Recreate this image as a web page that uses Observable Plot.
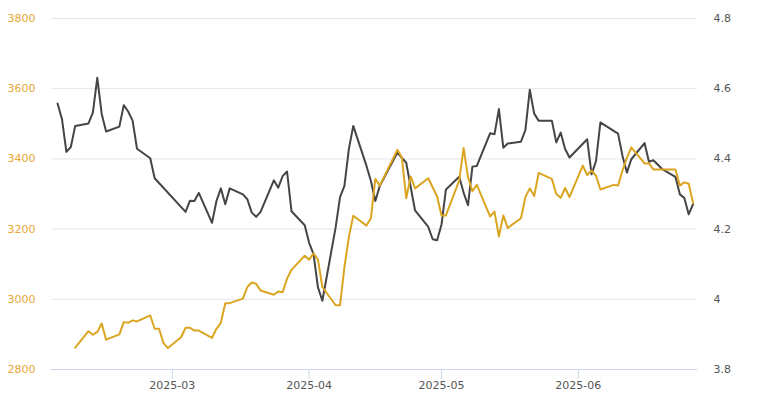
<!DOCTYPE html>
<html>
<head>
<meta charset="utf-8">
<script src="https://cdn.jsdelivr.net/npm/d3@7"></script>
<script src="https://cdn.jsdelivr.net/npm/@observablehq/plot@0.6"></script>
<style>
  html, body { margin: 0; padding: 0; background: #fff; }
  #chart svg { display: block; }
</style>
</head>
<body>
<div id="chart"></div>
<script>
// Dark series (right axis)
const yieldDates = ["2025-02-03","2025-02-04","2025-02-05","2025-02-06","2025-02-07","2025-02-10","2025-02-11","2025-02-12","2025-02-13","2025-02-14","2025-02-17","2025-02-18","2025-02-19","2025-02-20","2025-02-21","2025-02-24","2025-02-25","2025-03-04","2025-03-05","2025-03-06","2025-03-07","2025-03-10","2025-03-11","2025-03-12","2025-03-13","2025-03-14","2025-03-17","2025-03-18","2025-03-19","2025-03-20","2025-03-21","2025-03-24","2025-03-25","2025-03-26","2025-03-27","2025-03-28","2025-03-31","2025-04-01","2025-04-02","2025-04-03","2025-04-04","2025-04-07","2025-04-08","2025-04-09","2025-04-10","2025-04-11","2025-04-14","2025-04-15","2025-04-16","2025-04-17","2025-04-21","2025-04-23","2025-04-25","2025-04-28","2025-04-29","2025-04-30","2025-05-01","2025-05-02","2025-05-05","2025-05-06","2025-05-07","2025-05-08","2025-05-09","2025-05-12","2025-05-13","2025-05-14","2025-05-15","2025-05-16","2025-05-19","2025-05-20","2025-05-21","2025-05-22","2025-05-23","2025-05-26","2025-05-27","2025-05-28","2025-05-29","2025-05-30","2025-06-03","2025-06-04","2025-06-05","2025-06-06","2025-06-09","2025-06-10","2025-06-11","2025-06-12","2025-06-13","2025-06-16","2025-06-17","2025-06-18","2025-06-20","2025-06-23","2025-06-24","2025-06-25","2025-06-26","2025-06-27"];
const yieldValues = [4.558,4.513,4.42,4.434,4.494,4.501,4.532,4.631,4.528,4.478,4.492,4.553,4.535,4.509,4.429,4.402,4.345,4.249,4.281,4.28,4.303,4.218,4.28,4.316,4.271,4.316,4.299,4.285,4.247,4.235,4.249,4.339,4.318,4.351,4.364,4.251,4.211,4.161,4.129,4.034,3.996,4.204,4.291,4.323,4.428,4.494,4.38,4.337,4.28,4.323,4.418,4.389,4.253,4.206,4.171,4.168,4.213,4.313,4.349,4.304,4.268,4.378,4.38,4.473,4.47,4.542,4.432,4.444,4.449,4.482,4.597,4.529,4.509,4.509,4.447,4.475,4.428,4.404,4.456,4.356,4.394,4.504,4.48,4.472,4.409,4.361,4.399,4.445,4.392,4.396,4.371,4.349,4.299,4.289,4.242,4.271];

// Gold series (left axis)
const goldDates = ["2025-02-07","2025-02-10","2025-02-11","2025-02-12","2025-02-13","2025-02-14","2025-02-17","2025-02-18","2025-02-19","2025-02-20","2025-02-21","2025-02-24","2025-02-25","2025-02-26","2025-02-27","2025-02-28","2025-03-03","2025-03-04","2025-03-05","2025-03-06","2025-03-07","2025-03-10","2025-03-11","2025-03-12","2025-03-13","2025-03-14","2025-03-17","2025-03-18","2025-03-19","2025-03-20","2025-03-21","2025-03-24","2025-03-25","2025-03-26","2025-03-27","2025-03-28","2025-03-31","2025-04-01","2025-04-02","2025-04-03","2025-04-04","2025-04-07","2025-04-08","2025-04-09","2025-04-10","2025-04-11","2025-04-14","2025-04-15","2025-04-16","2025-04-17","2025-04-21","2025-04-22","2025-04-23","2025-04-24","2025-04-25","2025-04-28","2025-04-30","2025-05-01","2025-05-02","2025-05-05","2025-05-06","2025-05-07","2025-05-08","2025-05-09","2025-05-12","2025-05-13","2025-05-14","2025-05-15","2025-05-16","2025-05-19","2025-05-20","2025-05-21","2025-05-22","2025-05-23","2025-05-26","2025-05-27","2025-05-28","2025-05-29","2025-05-30","2025-06-02","2025-06-03","2025-06-04","2025-06-05","2025-06-06","2025-06-09","2025-06-10","2025-06-11","2025-06-12","2025-06-13","2025-06-16","2025-06-17","2025-06-18","2025-06-19","2025-06-20","2025-06-23","2025-06-24","2025-06-25","2025-06-26","2025-06-27"];
const goldValues = [2862,2909,2899,2907,2931,2885,2900,2935,2933,2940,2937,2954,2916,2916,2875,2861,2892,2919,2919,2911,2911,2890,2916,2933,2989,2989,3002,3035,3048,3044,3025,3013,3022,3020,3059,3084,3124,3113,3131,3113,3035,2983,2983,3092,3177,3238,3210,3231,3343,3324,3426,3405,3288,3350,3316,3345,3293,3239,3239,3338,3431,3348,3308,3326,3236,3250,3179,3239,3203,3231,3291,3316,3294,3360,3343,3300,3289,3317,3291,3381,3354,3367,3352,3313,3326,3324,3367,3403,3433,3387,3387,3370,3370,3370,3370,3324,3333,3329,3274];

const leftTicks = [2800, 3000, 3200, 3400, 3600, 3800];
const leftTickLabels = ["2800", "3000", "3200", "3400", "3600", "3800"];
const rightTickLabels = ["3.8", "4", "4.2", "4.4", "4.6", "4.8"];
const monthTicks = ["2025-03-01", "2025-04-01", "2025-05-01", "2025-06-01"];

// map right-axis values onto the left scale
const toLeft = v => 2800 + (v - 3.8) * 1000;

const yieldData = yieldDates.map((d, i) => ({date: new Date(d + "T00:00:00Z"), value: toLeft(yieldValues[i])}));
const goldData = goldDates.map((d, i) => ({date: new Date(d + "T00:00:00Z"), value: goldValues[i]}));

const font = "DejaVu Sans, sans-serif";

const chart = Plot.plot({
  width: 767,
  height: 395,
  marginLeft: 51,
  marginRight: 70,
  marginTop: 18,
  marginBottom: 26,
  style: {fontFamily: font, fontSize: "11px", background: "#fff"},
  x: {
    type: "utc",
    domain: [new Date("2025-02-01T15:00:00Z"), new Date("2025-06-28T00:00:00Z")]
  },
  y: {domain: [2800, 3800]},
  marks: [
    Plot.gridY(leftTicks.filter(t => t !== 2800), {stroke: "#e6e6e6", strokeOpacity: 1}),
    Plot.ruleY([2800], {stroke: "#ccd6eb"}),
    Plot.axisY(leftTicks, {
      anchor: "left", tickSize: 0, tickPadding: 16, label: null,
      tickFormat: d => leftTickLabels[leftTicks.indexOf(d)],
      fill: "#e8a735", fontSize: 11
    }),
    Plot.axisY(leftTicks, {
      anchor: "right", tickSize: 0, tickPadding: 16, label: null,
      tickFormat: d => rightTickLabels[leftTicks.indexOf(d)],
      fill: "#555", fontSize: 11
    }),
    Plot.axisX(monthTicks.map(d => new Date(d + "T00:00:00Z")), {
      anchor: "bottom", tickSize: 10, tickPadding: 2, label: null,
      stroke: "#ccd6eb", fill: "#555", fontSize: 11,
      tickFormat: d3.utcFormat("%Y-%m")
    }),
    Plot.line(yieldData, {x: "date", y: "value", stroke: "#454545", strokeWidth: 2}),
    Plot.line(goldData, {x: "date", y: "value", stroke: "#daa520", strokeWidth: 2})
  ]
});

document.getElementById("chart").appendChild(chart);
</script>
</body>
</html>
